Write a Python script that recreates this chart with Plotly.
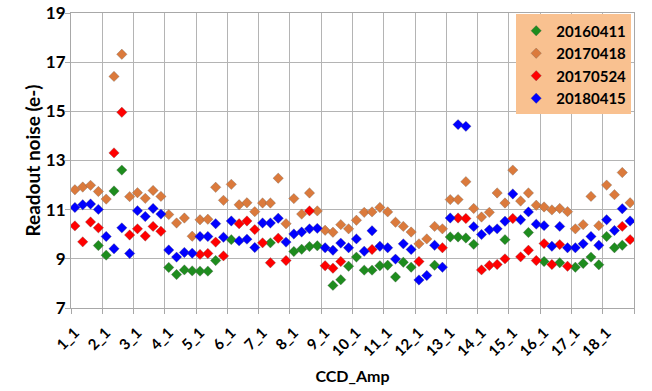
import plotly.graph_objects as go

ccds = list(range(1, 19))
amps = [1, 2, 3, 4]
categories = [f"{c}_{a}" for c in ccds for a in amps]

s20160411 = [None, None, None, 9.54,
             9.15, 11.76, 12.61, None,
             None, None, None, None,
             8.65, 8.36, 8.55, 8.51,
             8.50, 8.50, 8.93, None,
             9.78, None, None, None,
             None, 9.65, None, None,
             9.30, 9.39, 9.50, 9.53,
             None, 7.92, 8.15, 8.70,
             9.07, 8.54, 8.54, 8.72,
             8.74, 8.26, 8.86, 8.66,
             None, None, 8.74, None,
             9.89, 9.89, 9.85, 9.59,
             None, None, None, 9.78,
             None, None, 10.07, None,
             8.89, None, 8.84, None,
             8.66, 8.81, 9.07, 8.76,
             9.91, 9.45, 9.55, None]

s20170418 = [11.81, 11.92, 11.99, 11.74,
             11.43, 16.42, 17.32, 11.53,
             11.69, 11.46, 11.78, 11.54,
             10.80, 10.46, 10.66, 9.92,
             10.59, 10.61, 11.91, 11.38,
             12.03, 11.20, 11.28, 10.92,
             11.27, 11.27, 12.28, 10.43,
             11.45, 10.82, 11.68, 10.95,
             10.16, 10.08, 10.39, 10.22,
             10.57, 10.89, 10.91, 11.09,
             10.91, 10.49, 10.32, 10.09,
             9.61, 9.81, 10.32, 10.22,
             11.41, 11.41, 12.14, 11.05,
             10.70, 10.89, 11.68, 11.27,
             12.61, 11.35, 11.68, 11.18,
             11.11, 10.99, 11.05, 10.92,
             10.22, 10.39, 11.54, 10.35,
             12.00, 11.61, 12.51, 11.28]

s20170524 = [10.34, 9.69, 10.50, 10.26,
             None, 13.31, 14.96, 9.97,
             10.22, 9.93, 10.32, 10.12,
             None, None, None, None,
             9.18, 9.22, 9.68, 9.12,
             None, 10.43, 10.54, 10.19,
             9.65, 8.84, 9.84, 8.93,
             None, None, 10.95, None,
             8.72, 8.62, 8.89, None,
             None, None, 9.38, None,
             None, None, None, None,
             8.89, None, None, 9.45,
             None, 10.66, 10.64, None,
             8.55, 8.73, 8.77, 9.00,
             10.64, 9.08, 9.35, 8.93,
             9.62, 8.77, 9.58, 8.70,
             None, None, None, None,
             None, None, 10.32, 9.78]

s20180415 = [11.09, 11.20, 11.23, 11.01,
             9.91, 9.41, 10.26, 9.22,
             10.96, 10.72, 11.05, 10.82,
             9.36, 9.07, 9.26, 9.23,
             9.91, 9.91, 10.43, 9.88,
             10.54, 9.73, 9.80, 9.46,
             10.46, 10.46, 10.65, 9.68,
             10.01, 10.09, 10.22, 10.24,
             9.45, 9.35, 9.64, 9.45,
             9.81, 9.31, 10.14, 9.51,
             9.45, 8.99, 9.61, 9.38,
             8.14, 8.32, 9.55, 8.66,
             10.66, 14.46, 14.39, 10.31,
             9.99, 10.18, 10.22, 10.53,
             11.64, 10.59, 10.91, 10.41,
             10.35, 9.51, 10.32, 9.45,
             9.45, 9.61, 9.91, 9.55,
             10.59, 10.15, 11.04, 10.54]

series = [("20160411", s20160411, "#1E8C1E"),
          ("20170418", s20170418, "#DB7A3C"),
          ("20170524", s20170524, "#FF0000"),
          ("20180415", s20180415, "#0000FF")]

xidx = list(range(len(categories)))
tick_pos = [i for i, c in enumerate(categories) if c.endswith("_1")]
tick_txt = [categories[i] for i in tick_pos]
bounds = [i - 0.5 for i in tick_pos] + [len(categories) - 0.5]

FONT = "Lato"
fig = go.Figure()
for name, vals, col in series:
    fig.add_trace(go.Scatter(
        x=xidx, y=vals, mode="markers", name=name,
        marker=dict(symbol="diamond", size=8, color=col,
                    line=dict(width=0.5, color="rgba(90,90,90,0.6)")),
    ))

fig.update_layout(
    width=652, height=391,
    margin=dict(l=71, r=18, t=13, b=83, autoexpand=False),
    paper_bgcolor="white", plot_bgcolor="white",
    font=dict(family=FONT, color="black"),
    showlegend=True,
    legend=dict(x=0.995, y=0.995, xanchor="right", yanchor="top",
                bgcolor="#F9C190", borderwidth=0,
                font=dict(family=FONT, size=15, color="black", weight="bold"),
                itemwidth=30, tracegroupgap=0),
)
fig.update_xaxes(
    automargin=False,
    range=[-0.5, len(categories) - 0.5],
    tickmode="array", tickvals=tick_pos, ticktext=tick_txt,
    tickangle=-45, ticks="", showgrid=False, zeroline=False,
    ticklabelstandoff=9,
    tickfont=dict(family=FONT, size=15, color="black", weight="bold"),
    minor=dict(tickmode="array", tickvals=bounds, ticks="outside", ticklen=5,
               tickcolor="#A8A8A8", showgrid=True, gridcolor="#B4B4B4", gridwidth=1),
    showline=True, linecolor="#A8A8A8", linewidth=1, mirror=True,
    title=dict(text="CCD_Amp", font=dict(family=FONT, size=16, color="black", weight="bold"),
               standoff=12),
)
fig.update_yaxes(
    automargin=False,
    range=[7, 19], dtick=2, tick0=7,
    showgrid=True, gridcolor="#B4B4B4", gridwidth=1, zeroline=False,
    ticks="outside", ticklen=5, tickcolor="#A8A8A8",
    ticklabelstandoff=-4,
    showline=True, linecolor="#A8A8A8", linewidth=1, mirror=True,
    tickfont=dict(family=FONT, size=17, color="black", weight="bold"),
    title=dict(text="Readout noise (e-)", font=dict(family=FONT, size=19, color="black", weight="bold"),
               standoff=0),
)

fig.write_html("out.html", config={"displayModeBar": False},
               post_script="document.body.style.margin='0px';")
